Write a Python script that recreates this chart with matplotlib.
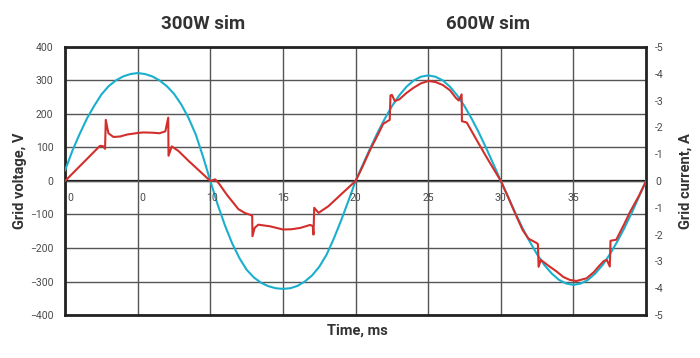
import numpy as np
import matplotlib.pyplot as plt

plt.rcParams['font.family'] = ['Roboto', 'DejaVu Sans']

# grid voltage (V), sampled every 0.5 ms
t_v = np.arange(0, 40.5, 0.5)
voltage = [32, 90, 140, 186, 224, 258, 283, 300, 312, 319, 322, 319, 312, 300, 283, 260, 228, 188, 138, 72,
           0, -70, -132, -186, -230, -265, -288, -304, -314, -320, -322, -320, -313, -300, -282, -256, -220, -172, -118, -60,
           0, 49, 97, 143, 185, 223, 255, 281, 300, 311, 315, 311, 300, 281, 255, 223, 185, 143, 97, 49,
           0, -48, -96, -141, -182, -219, -251, -276, -295, -306, -310, -306, -295, -276, -251, -219, -182, -141, -96, -48, 0]

# grid current (A)
t_i = [0, 2.4, 2.6, 2.75, 2.8, 2.98, 3.33, 3.8, 4.25, 5.0, 5.4, 6.0, 6.5, 6.9, 7.1, 7.12, 7.34, 7.8, 8.5, 9.2, 10,
       10.33, 10.6, 11.13, 11.93, 12.4, 12.74, 12.88, 12.9, 13.05, 13.3, 14.1, 15.0, 15.6, 16.2, 16.87, 17.05, 17.1, 17.15,
       17.45, 18.13, 19.0, 20,
       20.5, 21, 21.5, 21.9, 22.2, 22.35, 22.4, 22.5, 22.7, 23.0, 23.5, 24, 24.5, 25, 25.5, 26, 26.5, 26.9, 27.1, 27.3,
       27.32, 27.65, 28.3, 29, 29.5, 30,
       30.5, 31, 31.5, 31.9, 32.45, 32.55, 32.6, 32.75, 33.2, 33.85, 34.3, 34.75, 35.2, 35.9, 36.4, 36.8, 37.1, 37.3,
       37.5, 37.55, 37.95, 38.5, 38.9, 39.5, 40]
current = [0, 1.31, 1.30, 1.20, 2.28, 1.78, 1.64, 1.66, 1.73, 1.79, 1.81, 1.80, 1.78, 1.85, 2.36, 0.94, 1.29, 1.12, 0.75, 0.40, 0,
           0.06, -0.10, -0.51, -1.05, -1.20, -1.26, -1.30, -2.06, -1.75, -1.63, -1.69, -1.81, -1.80, -1.75, -1.64, -1.68, -2.00, -1.00,
           -1.19, -0.94, -0.50, 0,
           0.56, 1.16, 1.69, 2.13, 2.23, 2.28, 3.19, 3.21, 2.98, 3.04, 3.28, 3.48, 3.64, 3.73, 3.69, 3.58, 3.38, 3.10, 3.00, 3.23,
           2.23, 2.18, 1.56, 0.90, 0.45, 0,
           -0.60, -1.23, -1.83, -2.15, -2.31, -2.35, -3.20, -2.94, -3.13, -3.38, -3.58, -3.69, -3.73, -3.63, -3.40, -3.15, -2.98, -2.95,
           -3.19, -2.23, -2.19, -1.60, -1.15, -0.56, 0]

x_ticks = [0, 5, 10, 15, 20, 25, 30, 35]
x_labels = ['0', '0', '10', '15', '20', '25', '30', '35']
x_label_pos = [0.35, 5.3, 10.1, 15, 20, 25, 30, 35]
v_ticks = [-400, -300, -200, -100, 0, 100, 200, 300, 400]
i_ticks = [-5, -4, -3, -2, -1, 0, 1, 2, 3, 4, 5]
i_labels = ['-5', '-4', '-3', '-2', '-1', '0', '-1', '-2', '-3', '-4', '-5']
titles = ['300W sim', '600W sim']

blue = '#1aafcd'
red = '#d22f2c'
txt = '#333333'

fig = plt.figure(figsize=(7, 3.58), dpi=100)
ax = fig.add_axes([0.093, 0.12, 0.830, 0.749])

ax.set_xlim(0, 40)
ax.set_ylim(-400, 400)
ax.set_xticks(x_ticks)
ax.set_yticks(v_ticks)
ax.tick_params(axis='x', length=0, labelbottom=False)
ax.tick_params(axis='y', length=0, pad=8.5, labelsize=7.5, labelcolor='#4a4a4a')
ax.grid(True, color='#555555', lw=1.0)
ax.axhline(0, color='#111111', lw=1.6, zorder=1.5)
for s in ax.spines.values():
    s.set_color('#222222')
    s.set_linewidth(2)

ax.plot(t_v, voltage, color=blue, lw=1.5, zorder=3)

for xp, lab in zip(x_label_pos, x_labels):
    ax.annotate(lab, (xp, 0), xytext=(0, -12), textcoords='offset points',
                ha='center', va='center', fontsize=7.5, color='#4a4a4a')

ax2 = ax.twinx()
ax2.set_ylim(-5, 5)
ax2.set_yticks(i_ticks)
ax2.set_yticklabels(i_labels)
ax2.tick_params(axis='y', length=0, pad=6.5, labelsize=7.5, labelcolor='#4a4a4a')
for s in ax2.spines.values():
    s.set_visible(False)
ax2.plot(t_i, current, color=red, lw=1.5)

fig.text(0.290, 0.933, titles[0], ha='center', va='center', fontsize=13.5, fontweight='bold', color=txt)
fig.text(0.697, 0.933, titles[1], ha='center', va='center', fontsize=13.5, fontweight='bold', color=txt)
fig.text(0.029, 0.494, 'Grid voltage, V', rotation=90, ha='center', va='center',
         fontsize=10.5, fontweight='bold', color=txt)
fig.text(0.979, 0.494, 'Grid current, A', rotation=90, ha='center', va='center',
         fontsize=10.5, fontweight='bold', color=txt)
fig.text(0.51, 0.078, 'Time, ms', ha='center', va='center', fontsize=10.5, fontweight='bold', color=txt)

fig.savefig('out.png', dpi=100)
